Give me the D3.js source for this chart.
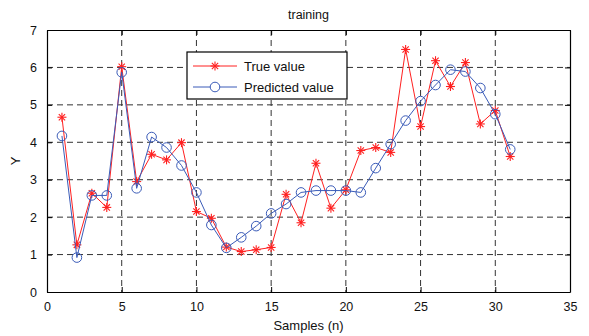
<!DOCTYPE html>
<html>
<head>
<meta charset="utf-8">
<script src="https://cdn.jsdelivr.net/npm/d3@7"></script>
<style>
  body { margin: 0; background: #fff; }
  text { font-family: "Liberation Sans", Arial, Helvetica, sans-serif; }
</style>
</head>
<body>
<div class="chart"></div>
<script>
let samples = d3.range(1, 32);
let trueValue = [4.67, 1.26, 2.64, 2.26, 6.02, 2.95, 3.68, 3.53, 3.99, 2.15,
  1.97, 1.2, 1.08, 1.13, 1.19, 2.61, 1.85, 3.44, 2.24, 2.73,
  3.78, 3.86, 3.73, 6.48, 4.42, 6.18, 5.49, 6.13, 4.49, 4.85, 3.62];
let predValue = [4.17, 0.92, 2.58, 2.58, 5.87, 2.77, 4.14, 3.86, 3.38, 2.66,
  1.79, 1.18, 1.46, 1.76, 2.1, 2.35, 2.66, 2.71, 2.71, 2.71,
  2.66, 3.31, 3.95, 4.58, 5.1, 5.53, 5.94, 5.89, 5.45, 4.75, 3.81];
let xTicks = [0, 5, 10, 15, 20, 25, 30, 35];
let yTicks = [0, 1, 2, 3, 4, 5, 6, 7];
let legendNames = ["True value", "Predicted value"];

let svgWidth = 589, svgHeight = 336;
let margin = { top: 30, right: 19, bottom: 44, left: 47 };
let chartWidth = svgWidth - margin.left - margin.right;
let chartHeight = svgHeight - margin.top - margin.bottom;

let red = "#ff2020", blue = "#3a5bb8";

let svg = d3.select(".chart").append("svg")
  .attr("width", svgWidth)
  .attr("height", svgHeight);

let chart = svg.append("g")
  .attr("transform", `translate(${margin.left}, ${margin.top})`);

let x = d3.scaleLinear().domain([0, 35]).range([0, chartWidth]);
let y = d3.scaleLinear().domain([0, 7]).range([chartHeight, 0]);

// grid
chart.append("g").selectAll("line")
  .data(xTicks.slice(1, -1)).enter().append("line")
  .attr("x1", d => x(d)).attr("x2", d => x(d))
  .attr("y1", 0).attr("y2", chartHeight)
  .attr("stroke", "#333").attr("stroke-width", 1)
  .attr("stroke-dasharray", "6,4");
chart.append("g").selectAll("line")
  .data(yTicks.slice(1, -1)).enter().append("line")
  .attr("x1", 0).attr("x2", chartWidth)
  .attr("y1", d => y(d)).attr("y2", d => y(d))
  .attr("stroke", "#333").attr("stroke-width", 1)
  .attr("stroke-dasharray", "6,4");

// axes, ticks inward like matlab
let bottomAxis = d3.axisBottom(x).tickValues(xTicks).tickFormat(d3.format("d"))
  .tickSizeInner(-5).tickSizeOuter(0).tickPadding(10);
let leftAxis = d3.axisLeft(y).tickValues(yTicks).tickFormat(d3.format("d"))
  .tickSizeInner(-5).tickSizeOuter(0).tickPadding(10);
let topAxis = d3.axisTop(x).tickValues(xTicks).tickSizeInner(-5).tickSizeOuter(0).tickFormat("");
let rightAxis = d3.axisRight(y).tickValues(yTicks).tickSizeInner(-5).tickSizeOuter(0).tickFormat("");

chart.append("g").attr("transform", `translate(0, ${chartHeight})`).call(bottomAxis);
chart.append("g").call(leftAxis);
chart.append("g").call(topAxis);
chart.append("g").attr("transform", `translate(${chartWidth}, 0)`).call(rightAxis);

chart.selectAll(".domain").attr("stroke", "#000").attr("stroke-width", 1.2);
chart.selectAll(".tick line").attr("stroke", "#000");
chart.selectAll(".tick text").attr("font-size", 12.5).attr("fill", "#111")
  .attr("font-family", "'Liberation Sans', Arial, sans-serif");

// series
let line = d3.line().x((d, i) => x(samples[i])).y(d => y(d));

function star(g, cx, cy, s, color) {
  let p = g.append("g").attr("transform", `translate(${cx},${cy})`)
    .attr("stroke", color).attr("stroke-width", 1.1);
  [[0, -s, 0, s], [-s, 0, s, 0], [-s * 0.7, -s * 0.7, s * 0.7, s * 0.7], [-s * 0.7, s * 0.7, s * 0.7, -s * 0.7]]
    .forEach(l => p.append("line").attr("x1", l[0]).attr("y1", l[1]).attr("x2", l[2]).attr("y2", l[3]));
}

chart.append("path").datum(trueValue)
  .attr("d", line).attr("fill", "none")
  .attr("stroke", red).attr("stroke-width", 1);
let starG = chart.append("g");
trueValue.forEach((d, i) => star(starG, x(samples[i]), y(d), 4.5, red));

chart.append("path").datum(predValue)
  .attr("d", line).attr("fill", "none")
  .attr("stroke", blue).attr("stroke-width", 1);
chart.append("g").selectAll("circle")
  .data(predValue).enter().append("circle")
  .attr("cx", (d, i) => x(samples[i]))
  .attr("cy", d => y(d))
  .attr("r", 4.8)
  .attr("fill", "none")
  .attr("stroke", blue).attr("stroke-width", 1);

// legend
let legend = svg.append("g").attr("transform", "translate(187, 52)");
legend.append("rect").attr("width", 160).attr("height", 47)
  .attr("fill", "#fff").attr("stroke", "#000").attr("stroke-width", 1.2);
legend.append("line").attr("x1", 6).attr("x2", 50).attr("y1", 14).attr("y2", 14)
  .attr("stroke", red);
star(legend, 28, 14, 4.5, red);
legend.append("line").attr("x1", 6).attr("x2", 50).attr("y1", 35).attr("y2", 35)
  .attr("stroke", blue);
legend.append("circle").attr("cx", 28).attr("cy", 35).attr("r", 4.8)
  .attr("fill", "#fff").attr("stroke", blue);
legend.selectAll(".lbl").data(legendNames).enter().append("text")
  .attr("x", 57).attr("y", (d, i) => 19 + i * 21)
  .attr("font-size", 13).attr("fill", "#111")
  .text(d => d);

// titles
svg.append("text")
  .attr("x", margin.left + chartWidth / 2).attr("y", 19)
  .attr("text-anchor", "middle").attr("font-size", 12.5).attr("fill", "#111")
  .text("training");
svg.append("text")
  .attr("x", margin.left + chartWidth / 2).attr("y", 330)
  .attr("text-anchor", "middle").attr("font-size", 13).attr("fill", "#111")
  .text("Samples (n)");
svg.append("text")
  .attr("transform", `translate(20, ${margin.top + chartHeight / 2}) rotate(-90)`)
  .attr("text-anchor", "middle").attr("font-size", 13).attr("fill", "#111")
  .text("Y");
</script>
</body>
</html>
